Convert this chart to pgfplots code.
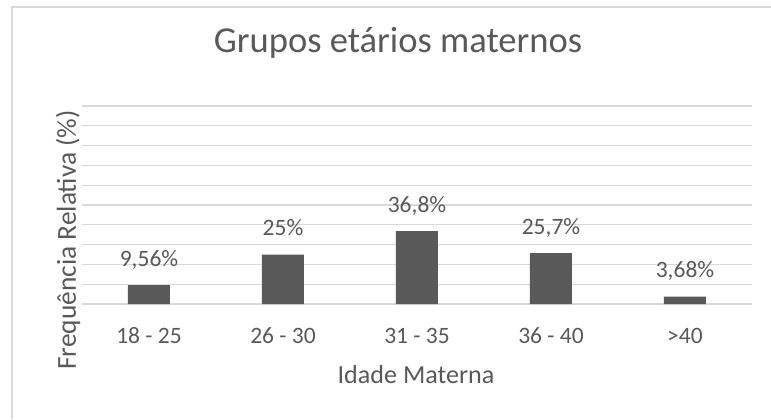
\documentclass[border=0pt]{standalone}
\usepackage{pgfplots}
\pgfplotsset{compat=1.18}
\usepackage{fontspec}
\setmainfont{Carlito}
\definecolor{textc}{HTML}{595959}
\definecolor{barc}{HTML}{595959}
\definecolor{gridc}{HTML}{D9D9D9}
\newcommand\U{0.383pt}
\begin{document}
\begin{tikzpicture}
\useasboundingbox (0,0) rectangle (771*\U,-419*\U);
\draw[gridc, line width=0.6pt] (12*\U,-419*\U) -- (12*\U,-7*\U) -- (771*\U,-7*\U);
\begin{axis}[
  at={(82*\U,-304*\U)}, anchor=south west,
  scale only axis, width=670*\U, height=198*\U,
  xmin=-0.5, xmax=4.5, ymin=0, ymax=100,
  ytick={0,10,...,100}, yticklabels={},
  ymajorgrids, grid style={gridc, line width=0.5pt},
  xtick={0,1,2,3,4},
  xticklabels={18 - 25,26 - 30,31 - 35,36 - 40,>40},
  major tick length=0pt,
  axis line style={draw=none},
  xticklabel style={font=\fontsize{9}{10}\selectfont, text=textc, anchor=base, yshift=-39*\U},
  ybar, bar width=42*\U,
  point meta=explicit symbolic,
  nodes near coords,
  every node near coord/.append style={font=\fontsize{9}{10}\selectfont, text=textc, anchor=base, yshift=19*\U},
  clip=false,
]
\addplot[fill=barc, draw=none] coordinates {
  (0,9.56) [9,56\%]
  (1,25) [25\%]
  (2,36.8) [36,8\%]
  (3,25.7) [25,7\%]
  (4,3.68) [3,68\%]
};
\end{axis}
\node[anchor=base, text=textc, font=\fontsize{14}{16}\selectfont] at (398*\U,-52*\U) {Grupos etários maternos};
\node[anchor=base, text=textc, font=\fontsize{10}{12}\selectfont] at (416*\U,-383*\U) {Idade Materna};
\node[anchor=base, rotate=90, text=textc, font=\fontsize{10.5}{12}\selectfont] at (76*\U,-240*\U) {Frequência Relativa (\%)};
\end{tikzpicture}
\end{document}
